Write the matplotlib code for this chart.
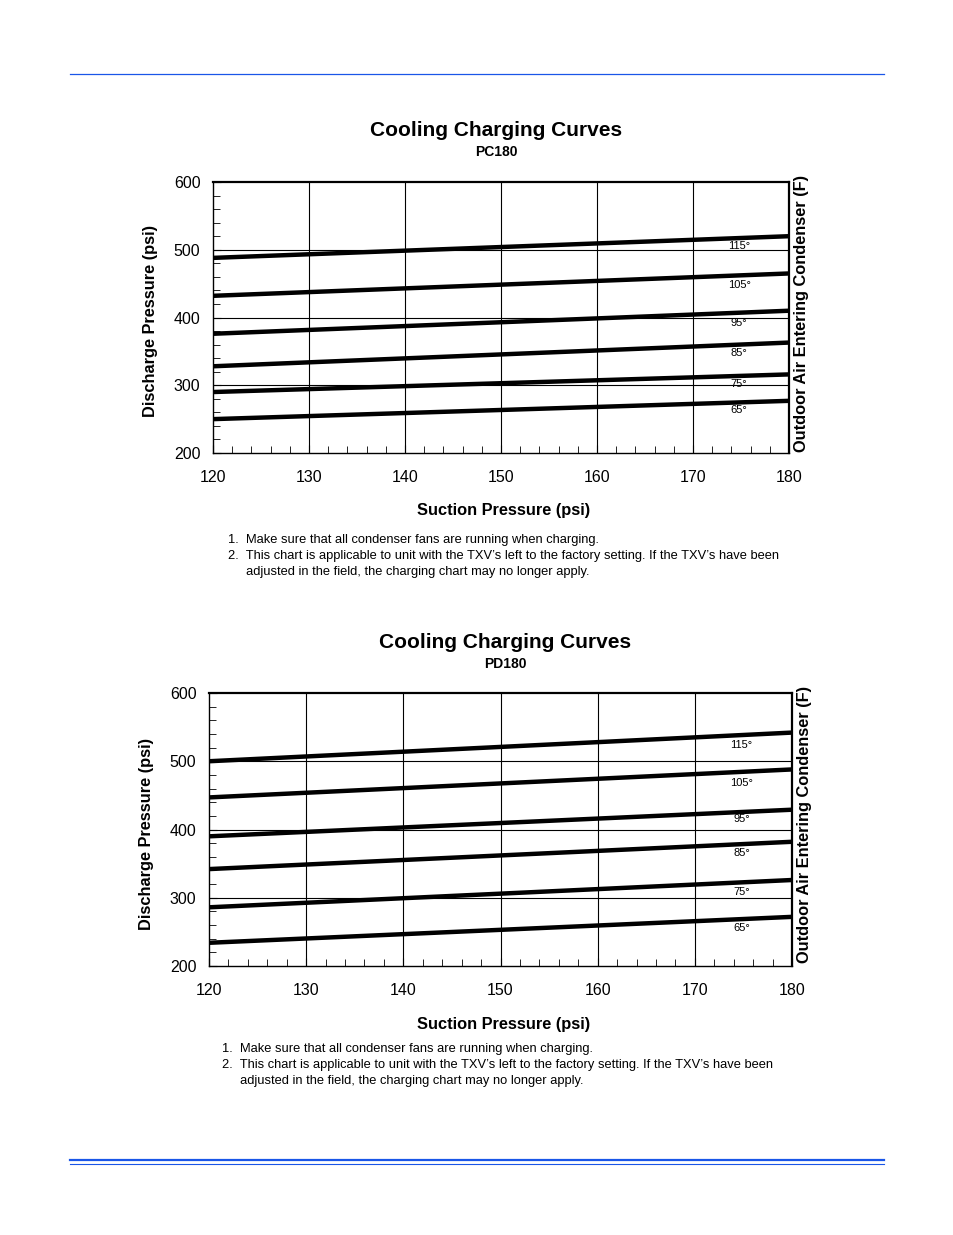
import matplotlib.pyplot as plt
from matplotlib.ticker import MultipleLocator
from matplotlib.lines import Line2D

plt.rcParams['font.family'] = ['Liberation Sans', 'DejaVu Sans']

# suction pressure end points (psi)
suction = [120, 180]
temps = ['65°', '75°', '85°', '95°', '105°', '115°']

# PC180 discharge pressure at 120 / 180 psi suction
pc180 = {
    '65°': [250, 277],
    '75°': [290, 316],
    '85°': [328, 363],
    '95°': [376, 410],
    '105°': [432, 465],
    '115°': [488, 520],
}
pc180_label_y = [263, 302, 348, 392, 448, 506]

# PD180 discharge pressure at 120 / 180 psi suction
pd180 = {
    '65°': [234, 272],
    '75°': [286, 326],
    '85°': [342, 382],
    '95°': [390, 429],
    '105°': [447, 488],
    '115°': [500, 542],
}
pd180_label_y = [256, 308, 366, 415, 468, 524]

notes = [
    "1.  Make sure that all condenser fans are running when charging.",
    "2.  This chart is applicable to unit with the TXV\u2019s left to the factory setting. If the TXV\u2019s have been",
    "     adjusted in the field, the charging chart may no longer apply.",
]

W, H = 954, 1235
fig = plt.figure(figsize=(W / 100, H / 100), dpi=100)


def px(x, y):
    return x / W, 1 - y / H


def draw_chart(rect, data, label_y, model, title_xy, ylab_xy, rlab_xy, xlab_y, note_xy):
    ax = fig.add_axes(rect)
    for t in temps:
        ax.plot(suction, data[t], color='black', lw=3.2, solid_capstyle='butt', zorder=3)
    for t, ly in zip(temps, label_y):
        ax.text(174.8, ly, t, fontsize=8, ha='center', va='center', zorder=4)
    ax.set_xlim(120, 180)
    ax.set_ylim(200, 600)
    ax.xaxis.set_major_locator(MultipleLocator(10))
    ax.xaxis.set_minor_locator(MultipleLocator(2))
    ax.yaxis.set_major_locator(MultipleLocator(100))
    ax.yaxis.set_minor_locator(MultipleLocator(20))
    ax.tick_params(which='both', direction='in', top=False, right=False, labelsize=11.5)
    ax.tick_params(which='major', length=6, width=0.8)
    ax.tick_params(which='minor', length=5, width=0.6)
    ax.tick_params(axis='x', which='major', pad=12)
    ax.tick_params(axis='y', which='major', pad=9)
    for v in [130, 140, 150, 160, 170]:
        ax.axvline(v, color='black', lw=0.8, zorder=1)
    for v in [300, 400, 500]:
        ax.axhline(v, color='black', lw=0.8, zorder=1)
    for s in ['top', 'right']:
        ax.spines[s].set_linewidth(1.6)
    for s in ['left', 'bottom']:
        ax.spines[s].set_linewidth(1.0)

    tx, ty = px(*title_xy)
    fig.text(tx, ty, 'Cooling Charging Curves', fontsize=15, fontweight='bold',
             ha='center', va='center')
    fig.text(tx, ty - 22 / H, model, fontsize=10, fontweight='bold', ha='center', va='center')
    fig.text(*px(*ylab_xy), 'Discharge Pressure (psi)', fontsize=11.8, fontweight='bold',
             rotation=90, ha='center', va='center')
    fig.text(*px(*rlab_xy), 'Outdoor Air Entering Condenser (F)', fontsize=11.8,
             fontweight='bold', rotation=90, ha='center', va='center')
    fig.text(504 / W, 1 - xlab_y / H, 'Suction Pressure (psi)', fontsize=11.8, fontweight='bold',
             ha='center', va='center')
    nx, ny = note_xy
    for i, n in enumerate(notes):
        fig.text(nx / W, 1 - (ny + 16 * i) / H, n, fontsize=9.3, ha='left', va='center')
    return ax


draw_chart([213 / W, 1 - 453 / H, 576 / W, 271 / H], pc180, pc180_label_y, 'PC180',
           (496, 130), (151, 321), (802, 313), 511, (228, 540))
draw_chart([209 / W, 1 - 966 / H, 583 / W, 273 / H], pd180, pd180_label_y, 'PD180',
           (505, 642), (147, 834), (805, 824), 1024, (222, 1049))

blue = '#1a56e8'
fig.add_artist(Line2D([70 / W, 884 / W], [1 - 74 / H] * 2, color=blue, lw=0.9))
fig.add_artist(Line2D([70 / W, 884 / W], [1 - 1159.5 / H] * 2, color=blue, lw=1.6))
fig.add_artist(Line2D([70 / W, 884 / W], [1 - 1163.5 / H] * 2, color=blue, lw=0.8))

fig.savefig('out.png', dpi=100)
